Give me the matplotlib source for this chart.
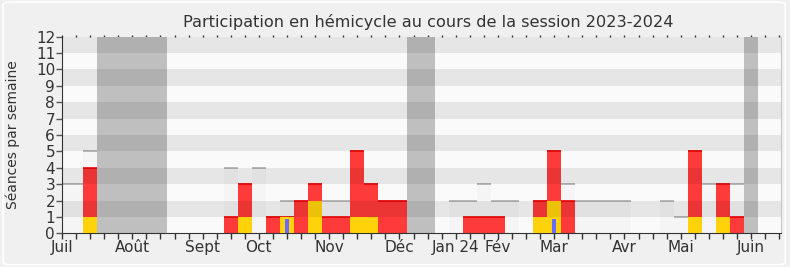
import matplotlib
matplotlib.use("Agg")
import matplotlib.pyplot as plt
import numpy as np
from matplotlib.patches import FancyBboxPatch

# weekly data, session 2023-2024 (52 weeks, week 0 = first week of July)
total_seances = [3, 3, 5, 0, 0, 0, 0, 0, 0, 0, 0, 0, 4, 3, 4, 1, 2, 2, 3, 2,
                 2, 5, 3, 2, 2, 0, 0, 0, 2, 2, 3, 2, 2, 0, 2, 5, 3, 2, 2, 2,
                 2, 0, 0, 2, 1, 5, 3, 3, 3, 0, 0, 0]
presences = [0, 0, 4, 0, 0, 0, 0, 0, 0, 0, 0, 0, 1, 3, 0, 1, 1, 2, 3, 1,
             1, 5, 3, 2, 2, 0, 0, 0, 0, 1, 1, 1, 0, 0, 2, 5, 2, 0, 0, 0,
             0, 0, 0, 0, 0, 5, 0, 3, 1, 0, 0, 0]
interventions = [0, 0, 1, 0, 0, 0, 0, 0, 0, 0, 0, 0, 0, 1, 0, 0, 1, 0, 2, 0,
                 0, 1, 1, 0, 0, 0, 0, 0, 0, 0, 0, 0, 0, 0, 1, 2, 0, 0, 0, 0,
                 0, 0, 0, 0, 0, 1, 0, 1, 0, 0, 0, 0]
questions = [0] * 52
questions[16] = 0.87
questions[35] = 0.87
vacances = [3, 4, 5, 6, 7, 25, 26, 49]

mois = ['Juil', 'Août', 'Sept', 'Oct', 'Nov', 'Déc', 'Jan 24', 'Fév',
        'Mar', 'Avr', 'Mai', 'Juin']
mois_pos = [0, 5, 10, 14, 19, 24, 28, 31, 35, 40, 44, 49]

weeks = np.arange(len(total_seances))
total = np.array(total_seances)
pres = np.array(presences)

fig = plt.figure(figsize=(7.9, 2.67), dpi=100, facecolor='#f0f0f0')
fig.patches.append(FancyBboxPatch((0.004, 0.008), 0.99, 0.984,
                                  boxstyle="round,pad=0,rounding_size=0.01",
                                  transform=fig.transFigure, facecolor='#f0f0f0',
                                  edgecolor='white', lw=1.2, zorder=-10))
ax = fig.add_axes([0.0785, 0.1262, 0.9095, 0.7363])
ax.set_facecolor('#fafafa')

# vacation weeks
ax.bar(vacances, [12] * len(vacances), width=1, color='#bfbfbf', zorder=1, lw=0)

# seances / presence / interventions / questions
m = total > 0
ax.bar(weeks, total, width=1, color='#f5f5f5', zorder=1.2, lw=0)
ax.hlines(total[m], weeks[m] - 0.5, weeks[m] + 0.5, color='#aaaaaa', lw=1.2, zorder=1.5)
mp = pres > 0
ax.bar(weeks, pres, width=1, color='#ff3a3a', zorder=2, lw=0)
ax.hlines(pres[mp], weeks[mp] - 0.5, weeks[mp] + 0.5, color='#ee0000', lw=1.2, zorder=2.5)
ax.bar(weeks, interventions, width=1, color='#ffd20a', zorder=3, lw=0)
ax.bar(weeks, questions, width=0.33, color='#6b6bff', zorder=4, lw=0)

# horizontal stripes drawn over everything
for n in range(1, 12, 2):
    ax.axhspan(n, n + 1, color='black', alpha=0.08, lw=0, zorder=5)

ax.set_xlim(0, 51.1)
ax.set_ylim(0, 12)
ax.set_yticks(range(13))
ax.set_xticks(mois_pos)
ax.set_xticklabels(mois)
ax.set_xticks(weeks, minor=True)

ax.spines['top'].set_visible(False)
ax.spines['right'].set_color('#c8c8c8')
ax.spines['left'].set_color('#333333')
ax.spines['bottom'].set_color('#333333')
ax.tick_params(axis='y', length=4, width=1, color='#555555', labelsize=11,
               labelcolor='#333333', pad=1)
ax.tick_params(axis='x', which='both', length=4, width=1, color='#333333',
               labelsize=11, labelcolor='#333333', pad=1)

# small dotted ticks along the top edge
top = ax.secondary_xaxis('top')
top.set_xticks(weeks)
top.tick_params(length=1.5, width=1, color='#333333', labeltop=False)
top.spines['top'].set_visible(False)

ax.set_ylabel('Séances par semaine', fontsize=10, color='#333333')
ax.yaxis.set_label_coords(-0.058, 0.5)
ax.set_title('Participation en hémicycle au cours de la session 2023-2024',
             fontsize=11.6, color='#333333', pad=7, x=0.51)

fig.savefig('out.png', dpi=100, facecolor=fig.get_facecolor())
